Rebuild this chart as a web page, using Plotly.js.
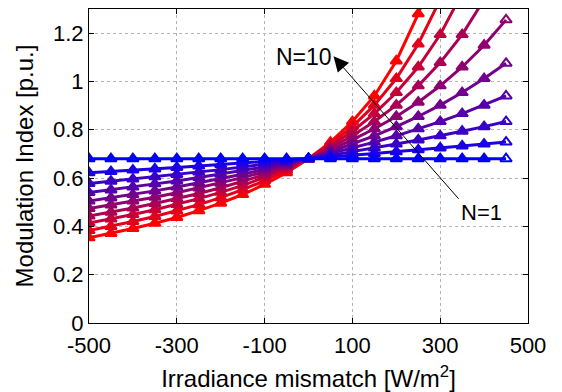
<!DOCTYPE html>
<html>
<head>
<meta charset="utf-8">
<script src="https://cdn.plot.ly/plotly-3.0.1.min.js"></script>
<style>html,body{margin:0;padding:0;background:#fff;}#chart{width:562px;height:392px;}</style>
</head>
<body>
<div id="chart"></div>
<script>
// Irradiance mismatch [W/m^2]
const xMismatch = [-500,-450,-400,-350,-300,-250,-200,-150,-100,-50,0,50,100,150,200,250,300,350,400,450];
const xTickVals = [-500,-300,-100,100,300,500];
const xTickText = ['-500','-300','-100','100','300','500'];
const seriesNames = ['N=1','N=2','N=3','N=4','N=5','N=6','N=7','N=8','N=9','N=10'];
// Modulation index [p.u.] per series (null = off chart)
const m_N1  = [0.680,0.680,0.680,0.680,0.680,0.680,0.680,0.680,0.680,0.680,0.680,0.680,0.680,0.680,0.680,0.680,0.680,0.680,0.680,0.680];
const m_N2  = [0.622,0.627,0.633,0.638,0.644,0.650,0.656,0.661,0.668,0.674,0.680,0.687,0.694,0.702,0.709,0.717,0.725,0.733,0.741,0.749];
const m_N3  = [0.578,0.587,0.596,0.605,0.615,0.625,0.635,0.646,0.657,0.668,0.680,0.694,0.709,0.725,0.741,0.758,0.775,0.794,0.813,0.834];
const m_N4  = [0.540,0.551,0.563,0.576,0.588,0.602,0.616,0.631,0.646,0.663,0.680,0.702,0.725,0.749,0.775,0.804,0.834,0.867,0.902,0.940];
const m_N5  = [0.505,0.518,0.532,0.547,0.563,0.580,0.597,0.616,0.636,0.657,0.680,0.709,0.741,0.775,0.813,0.855,0.902,0.954,1.012,1.075];
const m_N6  = [0.474,0.489,0.505,0.521,0.539,0.559,0.579,0.602,0.626,0.652,0.680,0.717,0.758,0.804,0.855,0.914,0.982,1.060,1.150,1.255];
const m_N7  = [0.443,0.459,0.476,0.495,0.515,0.536,0.560,0.586,0.614,0.645,0.680,0.725,0.775,0.834,0.902,0.982,1.078,1.194,1.339,null];
const m_N8  = [0.414,0.431,0.449,0.469,0.491,0.515,0.541,0.570,0.603,0.639,0.680,0.733,0.794,0.867,0.954,1.060,1.194,1.366,null,null];
const m_N9  = [0.383,0.400,0.420,0.441,0.464,0.490,0.519,0.552,0.589,0.631,0.680,0.741,0.813,0.902,1.012,1.155,1.339,null,null,null];
const m_N10 = [0.353,0.371,0.391,0.413,0.437,0.465,0.496,0.532,0.574,0.622,0.680,0.749,0.834,0.940,1.085,1.280,1.520,null,null,null];
const seriesValues = [m_N1,m_N2,m_N3,m_N4,m_N5,m_N6,m_N7,m_N8,m_N9,m_N10];

const FONT = 'Liberation Sans, Arial, Helvetica, sans-serif';
function colorFor(i, n) {
  const t = i / (n - 1);
  const r = Math.round(255 * t), b = Math.round(255 * (1 - t));
  return 'rgb(' + r + ',0,' + b + ')';
}
const traces = [];
for (let i = seriesValues.length - 1; i >= 0; i--) {
  const c = colorFor(i, seriesValues.length);
  const ys = seriesValues[i];
  const symbols = xMismatch.map((_, k) => k === xMismatch.length - 1 ? 'triangle-up-open' : 'triangle-up');
  traces.push({
    type: 'scatter', mode: 'lines+markers', name: seriesNames[i],
    x: xMismatch, y: ys,
    line: {color: c, width: 3},
    marker: {symbol: symbols, size: 10, color: c, line: {color: c, width: 2}},
    connectgaps: false, cliponaxis: true
  });
}

const axisCommon = {
  showline: true, linecolor: '#000', linewidth: 1, mirror: 'ticks',
  ticks: 'inside', ticklen: 5, tickcolor: '#000', tickwidth: 1,
  showgrid: true, gridcolor: '#b4b4b4', griddash: 'dot', gridwidth: 1,
  zeroline: false, tickfont: {family: FONT, size: 22, color: '#000'}
};
const layout = {
  width: 562, height: 392,
  margin: {l: 89, r: 34, t: 9, b: 69},
  paper_bgcolor: '#fff', plot_bgcolor: '#fff',
  showlegend: false,
  font: {family: FONT, size: 22, color: '#000'},
  xaxis: Object.assign({}, axisCommon, {
    range: [-500, 500], tickmode: 'array', tickvals: xTickVals, ticktext: xTickText,
    ticklabelstandoff: 3,
    title: {text: 'Irradiance mismatch [W/m<sup>2</sup>]', font: {family: FONT, size: 24, color: '#000'}, standoff: 14}
  }),
  yaxis: Object.assign({}, axisCommon, {
    range: [0, 1.3], tick0: 0, dtick: 0.2,
    title: {text: 'Modulation Index [p.u.]', font: {family: FONT, size: 24, color: '#000'}, standoff: 12}
  }),
  annotations: [
    {x: 57, y: 1.104, ax: 345, ay: 0.508, axref: 'x', ayref: 'y', xref: 'x', yref: 'y',
     text: '', showarrow: true, arrowhead: 2, arrowsize: 3, arrowwidth: 1, arrowcolor: '#000', standoff: 0},
    {x: -11, y: 1.10, xref: 'x', yref: 'y', text: 'N=10', showarrow: false,
     font: {family: FONT, size: 23, color: '#000'}},
    {x: 395, y: 0.458, xref: 'x', yref: 'y', text: 'N=1', showarrow: false,
     font: {family: FONT, size: 22, color: '#000'}}
  ]
};
Plotly.newPlot('chart', traces, layout, {staticPlot: true, displayModeBar: false});
</script>
</body>
</html>
